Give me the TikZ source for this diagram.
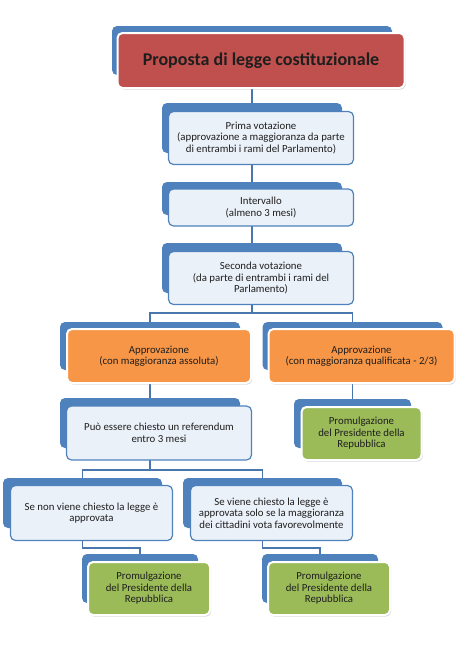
\documentclass[tikz,border=0pt]{standalone}
\usepackage{fontspec}
\setmainfont{Carlito}
\usetikzlibrary{positioning,shadows,backgrounds}

\definecolor{cBlue}{HTML}{4F81BD}
\definecolor{cLine}{HTML}{4A76AE}
\definecolor{cPale}{HTML}{EBF1F9}
\definecolor{cRed}{HTML}{C0504D}
\definecolor{cOrange}{HTML}{F79646}
\definecolor{cGreen}{HTML}{9BBB59}
\definecolor{cText}{HTML}{1E1E1E}
\newcommand{\boxfont}{\fontsize{10.8}{11.5}\selectfont}
\newcommand{\titlefont}{\fontsize{18}{22}\selectfont\bfseries}

\begin{document}
\begin{tikzpicture}[x=1pt, y=-1pt]
    \tikzset{
        back/.style = {rectangle, rounded corners=5pt, fill=cBlue, inner sep=0pt, outer sep=0pt},
        plain/.style = {rectangle, rounded corners=5pt, draw=cBlue, line width=1.2pt, fill=cPale,
                        align=center, inner sep=2pt, font=\boxfont, text=cText},
        colbox/.style = {rectangle, rounded corners=5pt, draw=white, line width=2pt, fill=#1,
                         align=center, inner sep=2pt, font=\boxfont, text=cText,
                         drop shadow={shadow xshift=1.2pt, shadow yshift=-1.6pt, opacity=0.3}},
        conn/.style = {draw=cLine, line width=1.4pt}
    }
    \useasboundingbox (0,0) rectangle (474,670);

    % back cards
    \node (prop) [back, minimum width=280pt, minimum height=49pt] at (252,50.5) {};
    \node (prima) [back, minimum width=180pt, minimum height=50pt, below=28pt of prop] {};
    \node (interv) [back, minimum width=180pt, minimum height=33pt, below=29pt of prima] {};
    \node (second) [back, minimum width=180pt, minimum height=50pt, below=28pt of interv] {};

    \node (appA) [back, minimum width=180pt, minimum height=48pt, below=29pt of second, xshift=-102pt] {};
    \node (appQ) [back, minimum width=180pt, minimum height=48pt, below=29pt of second, xshift=100.5pt] {};
    \node (refer) [back, minimum width=180pt, minimum height=50pt, below=28pt of appA] {};
    \node (promQ) [back, minimum width=117pt, minimum height=49pt, below=29pt of appQ] {};

    \node (seNo) [back, minimum width=159pt, minimum height=50pt, below=30pt of refer, xshift=-67.5pt] {};
    \node (seSi) [back, minimum width=159pt, minimum height=50pt, below=30pt of refer, xshift=112.5pt] {};
    \node (promNo) [back, minimum width=116pt, minimum height=49pt, below=26pt of seNo, xshift=57.5pt] {};
    \node (promSi) [back, minimum width=116pt, minimum height=49pt, below=26pt of seSi, xshift=57.5pt] {};

    % connectors
    \coordinate[below=20pt of second] (split1);
    \coordinate[below=22pt of refer] (split2);
    \coordinate[below=20pt of seNo, xshift=28pt] (split3);
    \coordinate[below=20pt of seSi, xshift=28pt] (split4);
    \begin{scope}[on background layer]
        \draw [conn] (prop) -- (prima);
        \draw [conn] (prima) -- (interv);
        \draw [conn] (interv) -- (second);
        \draw [conn] (second) -- (split1);
        \draw [conn] (appA) |- (split1) -| (appQ);
        \draw [conn] (appA) -- (refer);
        \draw [conn] (appQ) -- (promQ);
        \draw [conn] (refer) -- (split2);
        \draw [conn] (seNo) |- (split2) -| (seSi);
        \draw [conn] (seNo) |- (split3) -| (promNo);
        \draw [conn] (seSi) |- (split4) -| (promSi);
    \end{scope}

    % front cards
    \node (propT) [colbox=cRed, minimum width=287pt, minimum height=55pt, font=\titlefont]
        at ([shift={(9,10)}]prop) {Proposta di legge costituzionale};
    \node (primaT) [plain, minimum width=185pt, minimum height=53pt] at ([shift={(9,10)}]prima)
        {Prima votazione\\(approvazione a maggioranza da parte\\di entrambi i rami del Parlamento)};
    \node (intervT) [plain, minimum width=185pt, minimum height=37pt] at ([shift={(9,9)}]interv)
        {Intervallo\\(almeno 3 mesi)};
    \node (secondT) [plain, minimum width=185pt, minimum height=53pt] at ([shift={(9,10)}]second)
        {Seconda votazione\\(da parte di entrambi i rami del\\Parlamento)};

    \node (appAT) [colbox=cOrange, minimum width=184pt, minimum height=54pt] at ([shift={(9,10)}]appA)
        {Approvazione\\(con maggioranza assoluta)};
    \node (appQT) [colbox=cOrange, minimum width=186pt, minimum height=54pt] at ([shift={(9,10)}]appQ)
        {Approvazione\\(con maggioranza qualificata - 2/3)};
    \node (referT) [plain, minimum width=185pt, minimum height=54pt] at ([shift={(9,10)}]refer)
        {Può essere chiesto un referendum\\entro 3 mesi};
    \node (promQT) [colbox=cGreen, minimum width=120pt, minimum height=53pt] at ([shift={(9,10)}]promQ)
        {Promulgazione\\del Presidente della\\Repubblica};

    \node (seNoT) [plain, minimum width=162pt, minimum height=55pt] at ([shift={(9,10)}]seNo)
        {Se non viene chiesto la legge è\\approvata};
    \node (seSiT) [plain, minimum width=162pt, minimum height=55pt] at ([shift={(9,10)}]seSi)
        {Se viene chiesto la legge è\\approvata solo se la maggioranza\\dei cittadini vota favorevolmente};
    \node (promNoT) [colbox=cGreen, minimum width=122pt, minimum height=53pt] at ([shift={(9,10)}]promNo)
        {Promulgazione\\del Presidente della\\Repubblica};
    \node (promSiT) [colbox=cGreen, minimum width=122pt, minimum height=53pt] at ([shift={(9,10)}]promSi)
        {Promulgazione\\del Presidente della\\Repubblica};
\end{tikzpicture}
\end{document}
